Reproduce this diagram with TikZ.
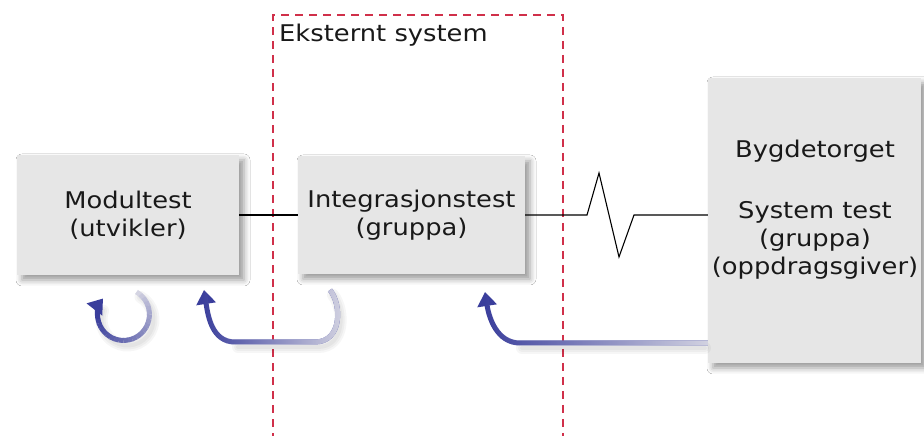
\documentclass[tikz,border=0pt]{standalone}
\usepackage{fontspec}
\setmainfont[FakeStretch=1.12]{DejaVu Sans}
\usetikzlibrary{arrows.meta,shadows.blur,fadings}
\definecolor{boxfill}{HTML}{E6E6E6}
\definecolor{arrdark}{HTML}{3A3E9C}
\definecolor{arrlight}{HTML}{D4D4E2}
\definecolor{dashred}{HTML}{D0304A}
\tikzfading[name=fadeR, left color=transparent!100, middle color=transparent!100, right color=transparent!0]
\tikzset{
  testbox/.style={fill=boxfill, draw=none, inner sep=0pt, align=center,
    blur shadow={shadow xshift=5pt, shadow yshift=-5pt, shadow blur radius=6pt, shadow opacity=40}},
  conn/.style={draw=black, line width=1.1pt},
  loop/.style={line width=5pt, line cap=butt},
  tipA/.style={-{Triangle[width=19pt,length=14pt]}},
  arrshadow/.style={draw=black, opacity=0.035, line cap=round},
  txt/.style={font=\fontsize{23}{28}\selectfont, text=black!90}
}
\begin{document}
\begin{tikzpicture}[x=1pt,y=1pt,txt]
\useasboundingbox (0,0) rectangle (924,436);
\fill[white] (0,0) rectangle (924,436);

% dashed external system frame
\draw[dashred, line width=1.4pt, dash pattern=on 8pt off 6pt] (273,-5) -- (273,421) -- (563,421) -- (563,-5);
\node[anchor=west, inner sep=0pt] (ext) at (279,401) {Eksternt system};

% boxes
\node[testbox, minimum width=222pt, minimum height=120pt] (mod) at (128,221) {Modultest\\(utvikler)};
\node[testbox, minimum width=227pt, minimum height=118pt] (int) at (411.5,221) {Integrasjonstest\\(gruppa)};
\node[testbox, minimum width=213pt, minimum height=285pt] (byg) at (814.5,215.5) {};
\node[inner sep=0pt, align=center] (bygtxt) at (815,226) {Bygdetorget\\[33pt]System test\\(gruppa)\\(oppdragsgiver)};

% connectors
\draw[conn] (mod.east) -- (int.west);
\coordinate (z1) at (587,221);
\coordinate (z2) at (599,263);
\coordinate (z3) at (619,179);
\coordinate (z4) at (634,221);
\draw[conn] (int.east) -- (z1) -- (z2) -- (z3) -- (z4) -- (z4 -| byg.west);

% soft shadows of the loops
\foreach \w in {4,8,12} {
  \draw[arrshadow, line width=\w pt] (127.5,116.5) ++(60:26) arc[start angle=60, end angle=-200, radius=26];
  \draw[arrshadow, line width=\w pt] (333,141) .. controls (345,126) and (345,89) .. (318,89) -- (238,89);
  \draw[arrshadow, line width=\w pt] (705,88) -- (522,88);
}

% loop 1 (circular, under Modultest)
\coordinate (c1) at (123.5,121.5);
\foreach \i in {0,...,22} {
  \pgfmathsetmacro\aa{60-10*\i}
  \pgfmathsetmacro\ab{60-10*(\i+1)-0.5}
  \pgfmathtruncatemacro\pc{100*(\i/23)^0.8}
  \draw[loop, draw=arrdark!\pc!arrlight] (c1) ++(\aa:26) arc[start angle=\aa, end angle=\ab, radius=26];
}
\draw[loop, arrdark, tipA] (c1) ++(-170:26) arc[start angle=-170, end angle=-218, radius=26];

% loop 2 (from Integrasjonstest back to Modultest)
\coordinate (a2s) at (330,146);
\coordinate (a2e) at (204,146);
\draw[loop, arrdark, tipA] (a2s) .. controls (342,131) and (342,94) .. (315,94) -- (235,94) .. controls (212,94) and (208,120) .. (a2e);
\draw[loop, arrlight, path fading=fadeR] (a2s) .. controls (342,131) and (342,94) .. (315,94) -- (235,94) .. controls (212,94) and (208,120) .. (a2e);

% loop 3 (from Bygdetorget back to Integrasjonstest)
\coordinate (a3e) at (485,144);
\draw[loop, arrdark, tipA] (byg.west |- 0,93) -- (520,93) .. controls (497,93) and (489,118) .. (a3e);
\draw[loop, arrlight, path fading=fadeR] (byg.west |- 0,93) -- (520,93) .. controls (497,93) and (489,118) .. (a3e);
\end{tikzpicture}
\end{document}
